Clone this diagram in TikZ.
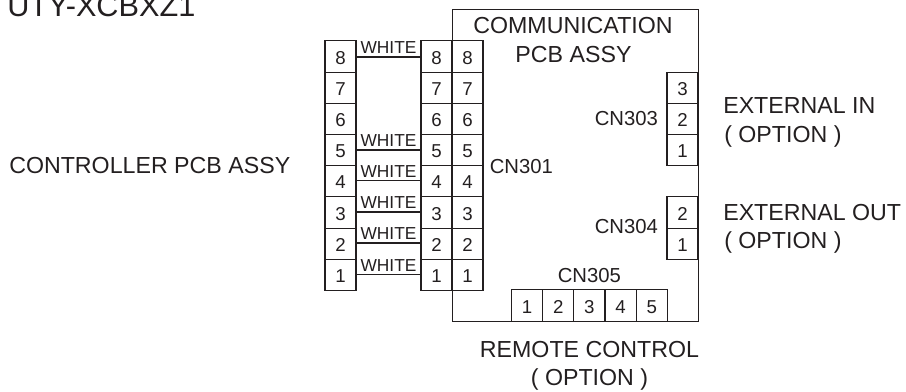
\documentclass[tikz,border=0pt]{standalone}
\usepackage{fontspec}
\setmainfont{Liberation Sans}
\definecolor{ink}{RGB}{35,31,32}
\tikzset{
  x=0.75pt,y=-0.75pt,
  cell/.style={draw=ink,line width=0.8pt,minimum width=23.25pt,minimum height=23.4pt,inner sep=0pt,text=ink,text height=11.4pt,text depth=0pt,font=\fontsize{14pt}{16pt}\selectfont},
  lbl/.style={inner sep=0pt,text=ink,anchor=base west,font=\fontsize{17.4pt}{20pt}\selectfont},
  lblc/.style={inner sep=0pt,text=ink,anchor=base,align=center,font=\fontsize{17.4pt}{20pt}\selectfont},
  cnlbl/.style={inner sep=0pt,text=ink,anchor=base west,font=\fontsize{15.2pt}{18pt}\selectfont},
  wirelbl/.style={inner sep=0pt,text=ink,anchor=base,font=\fontsize{13pt}{15pt}\selectfont},
  wire/.style={draw=ink,line width=0.8pt},
  board/.style={draw=ink,line width=0.8pt},
}
\begin{document}
\begin{tikzpicture}
\useasboundingbox (0,0) rectangle (906,392);
\clip (0,0) rectangle (906,392);
\node[board,minimum width=184.5pt,minimum height=234pt,inner sep=0pt,anchor=north west] (pcb) at (452,9) {};
\foreach \n/\yy in {8/56.5,7/87.7,6/118.9,5/150.1,4/181.3,3/212.5,2/243.7,1/274.9}{
  \node[cell] (a\n) at (340.5,\yy) {\n};
  \node[cell] (b\n) at (436.5,\yy) {\n};
  \node[cell] (c\n) at (467.5,\yy) {\n};
}
\foreach \n/\yy in {8/57,5/150,4/180.5,3/212,2/243,1/274.5}{
  \coordinate (wl\n) at (356,\yy);
  \coordinate (wr\n) at (421,\yy);
  \draw[wire] (wl\n) -- (wr\n);
  \node[wirelbl] (w\n) at (388.5,\yy-3.5) {WHITE};
}
\foreach \n/\yy in {3/87.7,2/118.9,1/150.1}{\node[cell] (d\n) at (682.5,\yy) {\n};}
\foreach \n/\yy in {2/212.5,1/243.7}{\node[cell] (e\n) at (682.5,\yy) {\n};}
\foreach \n/\xx in {1/527,2/558.2,3/589.4,4/620.6,5/651.8}{\node[cell] (f\n) at (\xx,305.5) {\n};}
\node[lbl] (t0) at (7,16.7) {\fontsize{23pt}{26pt}\selectfont UTY-XCBXZ1};
\node[lblc] (t1) at (573,33.3) {COMMUNICATION};
\node[lblc] (t2) at (573.5,62.3) {PCB ASSY};
\node[lbl] (t3) at (9,173) {CONTROLLER PCB ASSY};
\node[cnlbl] (t4) at (489.5,173) {CN301};
\node[cnlbl] (t5) at (594.5,126) {CN303};
\node[cnlbl] (t6) at (594.5,233.3) {CN304};
\node[cnlbl] (t7) at (557.5,282) {CN305};
\node[lbl] (t8) at (723,114) {EXTERNAL IN};
\node[lbl] (t9) at (724,142.5) {( OPTION )};
\node[lbl] (t10) at (723,220) {EXTERNAL OUT};
\node[lbl] (t11) at (724,248.5) {( OPTION )};
\node[lblc] (t12) at (589.5,357) {REMOTE CONTROL};
\node[lblc] (t13) at (589.5,385) {( OPTION )};
\end{tikzpicture}
\end{document}
